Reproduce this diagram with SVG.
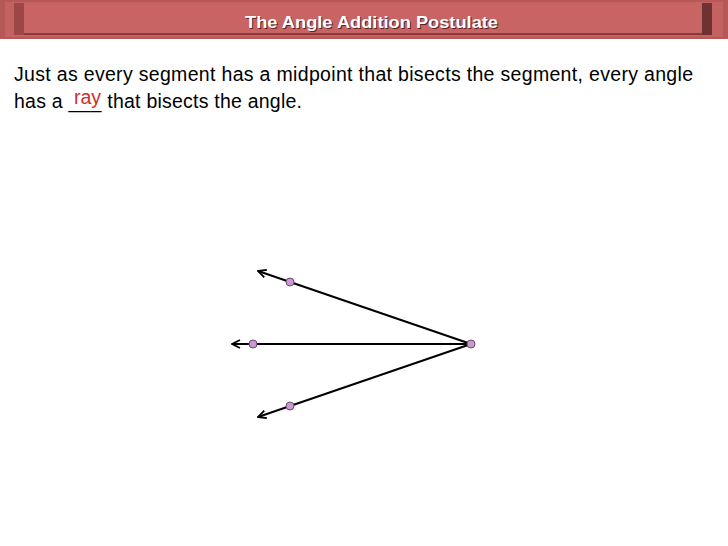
<svg xmlns="http://www.w3.org/2000/svg" width="728" height="546" viewBox="0 0 728 546">
<style>
.body{font-family:"Liberation Sans",Arial,sans-serif;font-size:19.5px;fill:#000}
.ttl{font-family:"Liberation Sans",Arial,sans-serif;font-size:17px;font-weight:bold}
.ray{stroke:#000;stroke-width:2;fill:none}
.pt{fill:#c99ad0;stroke:#6a4a70;stroke-width:1}
</style>
<defs>
<marker id="arr" viewBox="0 0 10 10" refX="9" refY="5" markerWidth="10" markerHeight="10" orient="auto" markerUnits="userSpaceOnUse">
<path d="M1,1 L9,5 L1,9" fill="none" stroke="#000" stroke-width="1.8"/>
</marker>
</defs>
<rect width="728" height="546" fill="#fff"/>
<g id="header">
<rect x="0" y="0" width="728" height="39" fill="#b65858"/>
<rect x="5" y="2" width="718" height="35" fill="#c46262"/>
<rect x="14" y="3" width="10" height="32" fill="#9c4646"/>
<rect x="702" y="3" width="10" height="32" fill="#6e3232"/>
<rect x="24" y="3" width="678" height="31" fill="#c86464"/>
<rect x="24" y="33" width="678" height="2" fill="#8a3a3a"/>
<text class="ttl" x="245" y="28" textLength="253" lengthAdjust="spacingAndGlyphs" fill="#5a2222" dx="1" dy="1">The Angle Addition Postulate</text>
<text class="ttl" x="245" y="28" textLength="253" lengthAdjust="spacingAndGlyphs" fill="#fff">The Angle Addition Postulate</text>
</g>
<g id="text">
<text class="body" x="14" y="81" textLength="679" lengthAdjust="spacing">Just as every segment has a midpoint that bisects the segment, every angle</text>
<text class="body" x="14" y="108" textLength="288" lengthAdjust="spacing">has a ___ that bisects the angle.</text>
<text x="74" y="104" font-family="'Liberation Sans',Arial,sans-serif" font-size="19.5" fill="#d0302c">ray</text>
</g>
<g id="connectors">
<line class="ray" x1="471" y1="344" x2="258" y2="271" marker-end="url(#arr)"/>
<line class="ray" x1="471" y1="344" x2="232" y2="344" marker-end="url(#arr)"/>
<line class="ray" x1="471" y1="344" x2="258" y2="417" marker-end="url(#arr)"/>
</g>
<g id="vertex"><circle class="pt" cx="471" cy="344" r="4"/></g>
<g id="pointA"><circle class="pt" cx="290" cy="282" r="4"/></g>
<g id="pointB"><circle class="pt" cx="253" cy="344" r="4"/></g>
<g id="pointC"><circle class="pt" cx="290" cy="406" r="4"/></g>
</svg>
